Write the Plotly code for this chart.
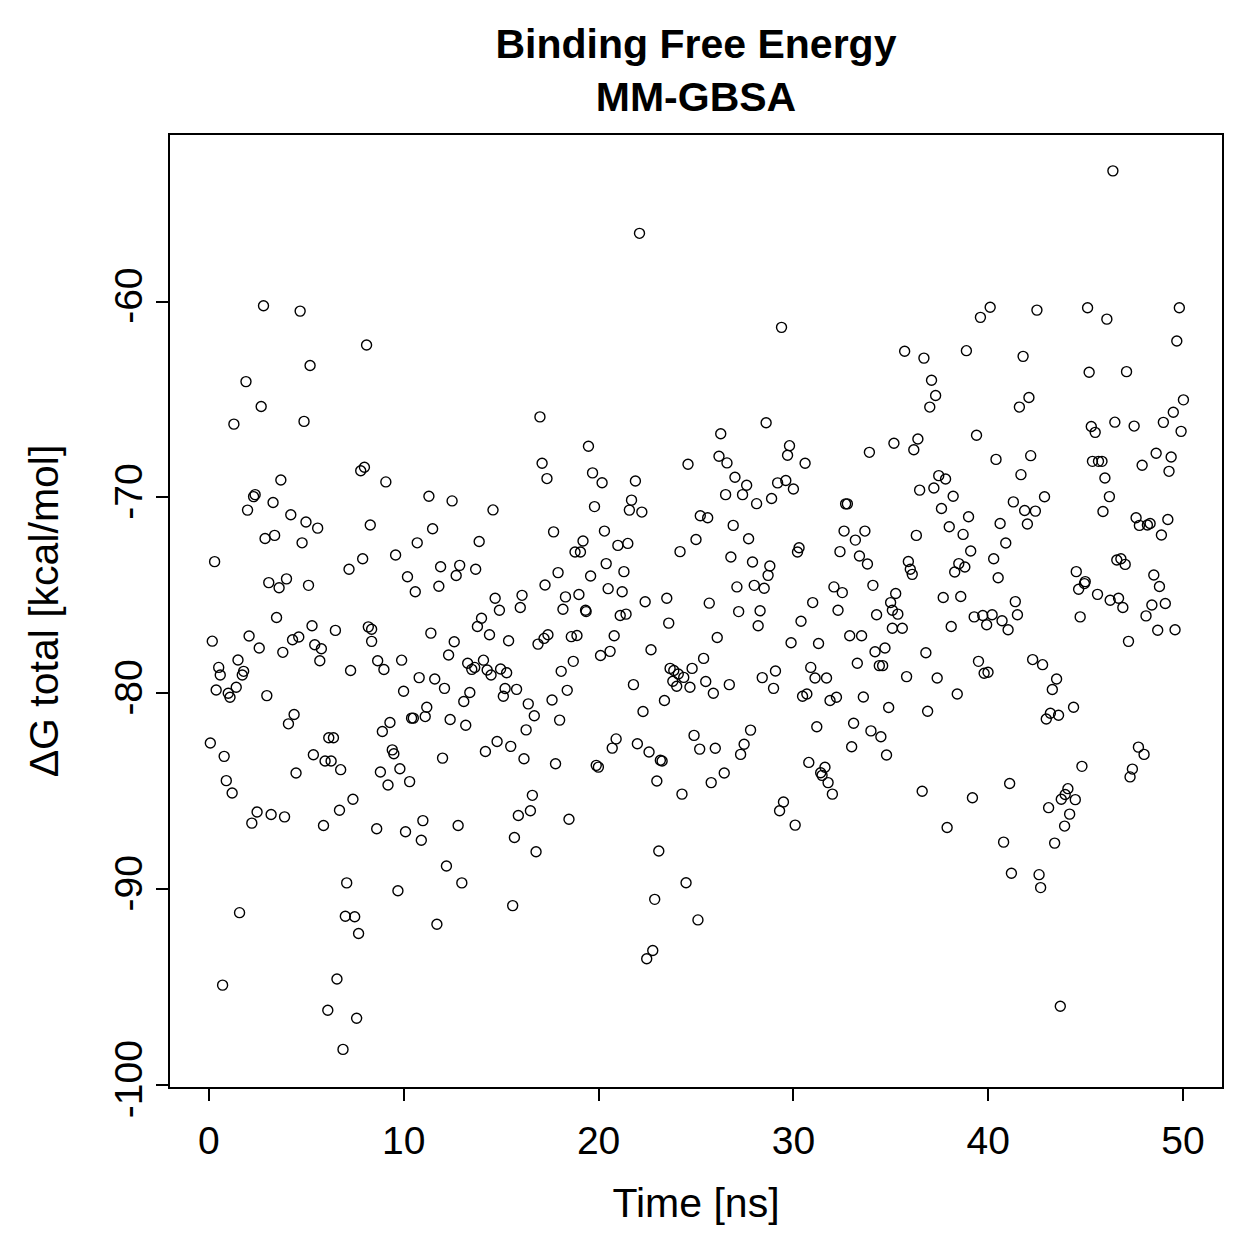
import plotly.graph_objects as go

# Time [ns] and ΔG total [kcal/mol]
time_ns = [
    2.80, 4.68, 8.09, 5.19, 1.90, 2.68, 1.28, 4.88, 7.98, 7.79, 3.69, 2.37, 2.29, 3.29, 1.98, 4.20, 4.98, 5.58, 8.28, 3.37,
    2.88, 4.78, 0.29, 7.89, 7.19, 3.98, 3.07, 3.60, 5.11,
    3.47, 5.29, 2.06, 0.17, 6.49, 8.18, 8.35, 4.29, 4.61, 2.58, 3.79, 5.43, 5.77, 8.35, 1.49, 5.69, 0.50, 0.58, 1.78, 1.71,
    7.27, 0.37, 1.40, 0.99, 1.08, 2.97, 4.37, 4.08, 0.07, 0.78, 6.15, 6.39, 5.36, 5.96, 6.27, 6.76, 4.47, 0.89, 1.19, 7.39,
    6.70, 2.47, 2.20, 3.19, 3.88, 5.88, 7.07, 1.57, 7.00, 7.48, 7.68, 6.57, 0.70, 6.10, 7.58, 6.88,
    16.99, 17.10, 17.35, 9.08, 11.29, 12.48, 14.58, 11.48, 10.69, 13.87, 9.58, 11.89, 12.87, 12.69, 13.69, 10.19, 10.59,
    11.80, 17.25, 14.69, 16.07,
    14.91, 15.98, 13.99, 13.78, 14.40, 11.39, 12.59, 15.38, 16.89, 17.20, 17.40, 8.66, 8.98, 9.89, 12.30, 13.28, 13.49,
    13.64, 14.09, 14.28, 14.48, 14.97, 15.28, 10.79, 11.59, 12.09, 9.99, 13.39, 13.08, 15.20, 15.11, 15.79, 16.39, 16.70,
    11.18, 11.10, 10.40, 10.49, 12.38, 13.18, 9.29, 8.90, 16.28, 14.79, 14.19, 15.49, 16.17, 9.41, 9.49, 11.99, 8.80, 9.80,
    9.19, 10.30, 16.60, 16.50, 15.88, 15.68, 16.79, 8.61, 10.09, 10.98, 10.90, 12.79, 12.19, 12.98, 9.70, 15.59, 11.70,
    22.10, 19.48, 26.27, 26.18, 24.59, 19.69, 20.18, 21.89, 19.79, 21.69, 21.58, 22.22, 25.22, 25.60, 17.69, 19.20, 20.30,
    18.79, 19.07, 20.99, 21.50, 25.00, 24.18, 20.39, 21.30, 17.92, 19.59, 20.49, 21.21, 18.99, 18.30, 22.39, 23.50, 25.68,
    18.17, 19.33, 19.36, 21.11, 21.41, 23.60, 18.60, 18.89, 20.80, 26.09, 22.69, 20.10, 20.59, 18.70, 18.08, 25.39, 23.67,
    23.86, 24.09, 24.37, 24.80, 23.81, 24.01, 24.69, 25.50, 25.89, 21.79, 18.39, 17.61, 23.38, 22.28, 18.00, 20.90, 20.70,
    21.99, 22.59, 23.17, 23.26, 24.90, 25.19, 25.99, 17.79, 19.88, 19.99, 22.99, 24.28, 25.78, 18.48, 23.09, 24.49, 22.88,
    25.10, 22.78, 22.47,
    29.39, 28.60, 26.59, 29.80, 29.70, 30.60, 33.90, 35.16, 27.00, 27.60, 27.39, 26.52, 28.11, 28.88, 29.19, 29.61, 30.00,
    32.68, 32.77, 26.91, 27.70, 26.79, 27.90, 28.79, 28.70, 28.50, 27.99, 27.10, 30.29, 30.21, 32.60, 33.67, 33.18, 32.39,
    33.39, 33.80, 34.08, 32.08, 32.51, 30.99, 35.25, 34.99,
    27.19, 28.29, 32.29, 34.27, 35.08, 35.36, 28.19, 30.39, 35.08, 29.88, 31.29, 32.89, 33.50, 34.19, 34.70, 34.41, 34.58,
    33.28, 30.89, 31.11, 31.70, 28.40, 29.08, 28.98, 26.71, 30.47, 30.69, 31.88, 32.21, 33.59, 34.89, 31.20, 33.09, 33.98,
    34.49, 32.99, 34.78, 27.80, 27.47, 27.29, 26.45, 30.79, 31.62, 31.40, 31.47, 31.78, 32.00, 29.49, 29.29, 30.09,
    40.10, 39.60, 42.50, 35.71, 36.70, 38.88, 41.79, 37.09, 37.30, 37.00, 42.09, 41.60, 39.40, 36.39, 36.18, 40.40, 42.18,
    41.68, 37.46, 37.81, 37.21, 36.48, 38.20, 37.60, 41.29, 42.89, 41.87, 42.42, 42.01, 40.61, 38.99, 38.00, 38.71, 36.31,
    40.90, 39.10, 40.28, 35.90, 36.00, 36.10, 38.49, 38.80, 38.28, 40.51, 37.69, 38.59, 41.39,
    35.59, 38.10, 39.28, 39.72, 39.92, 40.20, 40.71, 41.02, 41.50, 36.80, 35.81, 37.38, 38.41, 39.50, 39.79, 39.99, 42.28,
    42.79, 43.51, 43.29, 36.89, 43.19, 42.98, 43.61, 36.61, 39.19, 41.10, 37.89, 40.79, 43.10, 44.09, 43.95, 43.75, 44.18,
    43.92, 43.41, 41.19, 42.61, 42.69, 43.70,
    46.40, 45.10, 46.09, 49.81, 49.68, 45.18, 47.10, 50.02, 49.50, 48.99, 49.90, 45.29, 45.49, 46.50, 47.49, 45.35, 45.66,
    45.84, 45.99, 46.22, 45.89, 47.90, 48.62, 49.39, 49.28, 47.59, 47.76, 48.17, 48.31, 49.22, 48.89, 46.60, 46.81, 47.03,
    44.52, 44.98, 44.94, 44.64, 45.61, 46.26, 46.69, 46.91, 48.50, 48.79, 48.40, 49.09,
    44.72, 48.10, 48.70, 49.59, 47.20, 44.38, 47.71, 48.00, 47.40, 47.28, 44.81, 44.47,
]

dg_total = [
    -60.22, -60.49, -62.22, -63.27, -64.09, -65.36, -66.26, -66.12, -68.46, -68.64, -69.11, -69.86, -69.96, -70.26, -70.65,
    -70.89, -71.26, -71.57, -71.41, -71.94, -72.10, -72.32, -73.28, -73.13, -73.67, -74.16, -74.35, -74.61, -74.49,
    -76.13, -76.55, -77.08, -77.34, -76.79, -76.61, -76.73, -77.27, -77.13, -77.69, -77.91, -77.52, -77.73, -77.35, -78.30,
    -78.34, -78.68, -79.07, -78.88, -79.07, -78.84, -79.83, -79.69, -80.00, -80.20, -80.12, -81.08, -81.56, -82.54, -83.22,
    -82.27, -82.27, -83.14, -83.46, -83.46, -83.90, -84.07, -84.46, -85.09, -85.41, -85.97, -86.06, -86.63, -86.19, -86.31,
    -86.75, -89.68, -91.20, -91.38, -91.41, -92.26, -94.59, -94.90, -96.18, -96.59, -98.18,
    -65.89, -68.26, -69.04, -69.21, -69.94, -70.18, -70.64, -71.60, -72.32, -72.25, -72.94, -73.54, -73.47, -73.99, -73.67,
    -74.05, -74.82, -74.54, -74.47, -75.15, -75.00,
    -75.76, -75.62, -76.17, -76.59, -77.01, -76.93, -77.37, -77.32, -77.49, -77.20, -77.01, -78.34, -78.79, -78.31, -78.05,
    -78.47, -78.78, -78.68, -78.31, -78.81, -79.07, -78.76, -78.95, -79.20, -79.27, -79.75, -79.90, -79.96, -80.42, -79.76,
    -80.15, -79.80, -80.54, -81.15, -80.71, -81.19, -81.27, -81.27, -81.34, -81.63, -81.49, -81.95, -81.87, -82.46, -82.97,
    -82.71, -83.34, -82.89, -83.09, -83.31, -84.02, -83.85, -84.68, -84.51, -85.21, -86.00, -86.24, -87.36, -88.09, -86.92,
    -87.07, -86.50, -87.50, -86.75, -88.82, -89.68, -90.08, -90.84, -91.79,
    -56.52, -67.39, -66.75, -67.90, -68.31, -68.75, -69.25, -69.16, -70.47, -70.14, -70.65, -70.75, -70.94, -71.04, -71.76,
    -72.23, -71.72, -72.79, -72.79, -72.45, -72.35, -72.15, -72.77, -73.38, -73.79, -73.84, -74.01, -74.66, -74.82, -74.96,
    -75.08, -75.33, -75.15, -75.40,
    -75.71, -75.76, -75.83, -76.03, -75.96, -76.42, -77.11, -77.05, -77.06, -77.15, -77.78, -78.07, -77.86, -78.37, -78.88,
    -78.22, -78.73, -78.84, -79.02, -79.19, -78.73, -79.39, -79.64, -79.69, -79.40, -80.00, -79.56, -79.85, -80.34, -80.37,
    -80.93, -81.37, -82.33, -82.80, -82.58, -83.00, -83.42, -83.46, -82.15, -82.85, -82.81, -83.60, -83.68, -83.77, -84.48,
    -85.15, -84.56, -86.43, -88.05, -89.67, -90.52, -91.57, -93.13, -93.55,
    -61.32, -66.19, -68.24, -67.36, -67.85, -68.26, -67.70, -67.24, -68.97, -69.38, -69.86, -69.86, -70.32, -70.06, -69.26,
    -69.14, -69.57, -70.33, -70.33, -71.43, -72.11, -73.04, -73.30, -73.50, -73.98, -74.64, -74.49, -74.57, -72.57, -72.79,
    -71.72, -71.72, -72.18, -72.77, -72.99, -73.40, -74.49, -74.57, -74.86, -75.37, -74.91, -75.37,
    -75.83, -75.79, -75.76, -75.99, -75.76, -75.96, -76.55, -76.32, -76.68, -77.42, -77.46, -77.06, -77.06, -77.88, -77.69,
    -78.59, -78.59, -78.47, -78.68, -79.22, -79.22, -79.20, -78.86, -79.75, -79.56, -80.15, -80.04, -80.37, -80.20, -80.19,
    -80.73, -81.71, -81.53, -81.92, -82.22, -82.73, -83.15, -81.88, -82.60, -83.12, -84.07, -83.53, -83.78, -84.06, -84.19,
    -84.56, -85.15, -85.55, -86.00, -86.73,
    -60.29, -60.81, -60.44, -62.54, -62.89, -62.51, -62.80, -64.02, -64.80, -65.39, -64.90, -65.39, -66.83, -67.02, -67.57,
    -68.06, -67.87, -68.84, -68.89, -69.06, -69.52, -69.63, -69.94, -70.57, -70.23, -69.97, -70.67, -70.70, -71.36, -71.33,
    -70.99, -71.50, -71.89, -71.94, -72.33, -72.74, -73.13, -73.27, -73.67, -73.93, -73.38, -73.55, -73.81, -74.10, -75.11,
    -75.06, -75.32,
    -76.68, -76.59, -76.10, -76.03, -76.50, -75.99, -76.30, -76.76, -75.99, -77.93, -79.15, -79.22, -80.04, -78.37, -78.98,
    -78.93, -78.28, -78.54, -79.27, -79.81, -80.92, -81.02, -81.31, -81.12, -85.00, -85.33, -84.61, -86.85, -87.60, -85.84,
    -84.87, -85.17, -85.41, -86.17, -86.78, -87.65, -89.19, -89.26, -89.92, -95.98,
    -53.33, -60.32, -60.90, -60.32, -62.02, -63.61, -63.58, -65.02, -65.65, -66.17, -66.63, -66.38, -66.68, -66.16, -66.36,
    -68.16, -68.16, -68.16, -69.01, -69.96, -70.72, -68.36, -67.75, -67.94, -68.67, -71.04, -71.43, -71.41, -71.33, -71.13,
    -71.92, -73.20, -73.13, -73.42, -73.79, -74.30, -74.40, -74.69, -74.95, -75.25, -75.15, -75.62, -73.96, -74.55, -75.49,
    -75.42,
    -76.10, -76.05, -76.78, -76.76, -77.35, -80.71, -82.75, -83.12, -83.87, -84.27, -83.73, -85.43,
]

assert len(time_ns) == len(dg_total)

x_ticks = [0, 10, 20, 30, 40, 50]
x_tick_labels = ["0", "10", "20", "30", "40", "50"]
y_ticks = [-100, -90, -80, -70, -60]
y_tick_labels = ["-100", "-90", "-80", "-70", "-60"]

FONT = "Liberation Sans, Arial, Helvetica, sans-serif"

fig = go.Figure(
    go.Scatter(
        x=time_ns,
        y=dg_total,
        mode="markers",
        marker=dict(symbol="circle-open", size=10, color="black", line=dict(width=1.4, color="black")),
        showlegend=False,
        hoverinfo="x+y",
    )
)

axis_common = dict(
    showline=True, mirror=True, linecolor="black", linewidth=2,
    ticks="outside", ticklen=12, tickwidth=2, tickcolor="black",
    showgrid=False, zeroline=False,
    tickfont=dict(family=FONT, size=39, color="black"),
)

fig.update_layout(
    width=1259, height=1259,
    margin=dict(l=170, r=37, t=135, b=172, pad=0),
    paper_bgcolor="white", plot_bgcolor="white",
    font=dict(family=FONT, color="black"),
    title=dict(
        text="<b>Binding Free Energy</b><br><b>MM-GBSA</b>",
        x=(170 + 1222) / 2 / 1259, xanchor="center", xref="container",
        y=1 - 58 / 1259, yanchor="top", yref="container",
        font=dict(family=FONT, size=41, color="black"),
    ),
    xaxis=dict(
        range=[-2, 52], tickvals=x_ticks, ticktext=x_tick_labels,
        title=dict(text="Time [ns]", font=dict(family=FONT, size=41), standoff=28),
        ticklabelstandoff=6,
        **axis_common,
    ),
    yaxis=dict(
        range=[-100.1, -51.5], tickvals=y_ticks, ticktext=y_tick_labels, tickangle=-90,
        title=dict(text="ΔG total [kcal/mol]", font=dict(family=FONT, size=41), standoff=36),
        ticklabelstandoff=-2,
        **axis_common,
    ),
)

fig.write_html("out.html")
